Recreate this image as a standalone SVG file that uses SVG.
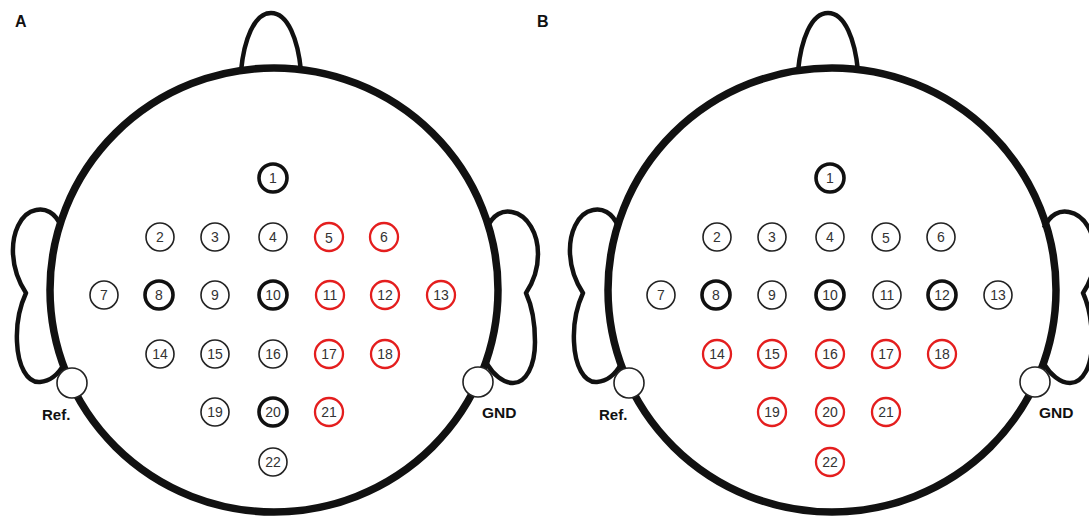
<svg xmlns="http://www.w3.org/2000/svg" width="1089" height="517" viewBox="0 0 1089 517">
<style>
.head{fill:none;stroke:#111;stroke-width:7.5}
.nose,.ear{fill:none;stroke:#111;stroke-width:4.5;stroke-linejoin:round}
.port{fill:#fff;stroke:#222;stroke-width:1.6}
.e{fill:#fff;stroke:#222;stroke-width:1.6}
.k{fill:#fff;stroke:#111;stroke-width:3.6}
.r{fill:#fff;stroke:#e41e1e;stroke-width:2.3}
.n{font-family:"Liberation Sans",Arial,sans-serif;font-size:14px;fill:#333;text-anchor:middle}
.lab{font-family:"Liberation Sans",Arial,sans-serif;font-weight:bold;fill:#111}
</style>
<rect width="1089" height="517" fill="#fff"/>
<text class="lab" x="15" y="27" font-size="16">A</text>
<text class="lab" x="537" y="27" font-size="16">B</text>

<g id="headA">
<path class="ear" d="M61,226 C55,212 45,208 36,210 C20,213 12,234 13,254 C14,272 20,284 26,293 C20,306 16,322 17,342 C18,366 27,383 40,382 C51,381 59,373 64,364"/>
<path class="ear" d="M487,228 C493,214 503,210 512,212 C528,215 538,234 538,254 C538,272 532,284 526,293 C532,306 535,322 535,342 C535,366 526,383 513,383 C503,383 493,374 487,364"/>
<path class="nose" d="M241,71 C244,40 254,13 271,13 C288,13 298,40 301,71"/>
<ellipse class="head" cx="274" cy="290" rx="224" ry="222"/>
<circle class="port" cx="72" cy="383" r="15"/>
<circle class="port" cx="478" cy="382" r="15"/>
<text class="lab" x="42" y="420" font-size="15">Ref.</text>
<text class="lab" x="482" y="418" font-size="15.5">GND</text>
</g>

<g id="headB" transform="translate(557,0)">
<path class="ear" d="M61,226 C55,212 45,208 36,210 C20,213 12,234 13,254 C14,272 20,284 26,293 C20,306 16,322 17,342 C18,366 27,383 40,382 C51,381 59,373 64,364"/>
<path class="ear" d="M487,228 C493,214 503,210 512,212 C528,215 538,234 538,254 C538,272 532,284 526,293 C532,306 535,322 535,342 C535,366 526,383 513,383 C503,383 493,374 487,364"/>
<path class="nose" d="M241,71 C244,40 254,13 271,13 C288,13 298,40 301,71"/>
<ellipse class="head" cx="275" cy="290" rx="224" ry="222"/>
<circle class="port" cx="72" cy="383" r="15"/>
<circle class="port" cx="478" cy="382" r="15"/>
<text class="lab" x="42" y="420" font-size="15">Ref.</text>
<text class="lab" x="482" y="418" font-size="15.5">GND</text>
</g>

<g id="A-electrodes">
<g id="a1"><circle class="k" cx="273" cy="178" r="14"/><text class="n" x="273" y="183">1</text></g>
<g id="a2"><circle class="e" cx="160" cy="237" r="14"/><text class="n" x="160" y="242">2</text></g>
<g id="a3"><circle class="e" cx="215" cy="237" r="14"/><text class="n" x="215" y="242">3</text></g>
<g id="a4"><circle class="e" cx="273" cy="237" r="14"/><text class="n" x="273" y="242">4</text></g>
<g id="a5"><circle class="r" cx="329" cy="237" r="14"/><text class="n" x="329" y="243">5</text></g>
<g id="a6"><circle class="r" cx="384" cy="237" r="14"/><text class="n" x="384" y="242">6</text></g>
<g id="a7"><circle class="e" cx="104" cy="295" r="14"/><text class="n" x="104" y="300">7</text></g>
<g id="a8"><circle class="k" cx="159" cy="295" r="14"/><text class="n" x="159" y="300">8</text></g>
<g id="a9"><circle class="e" cx="215" cy="295" r="14"/><text class="n" x="215" y="300">9</text></g>
<g id="a10"><circle class="k" cx="273" cy="295" r="14"/><text class="n" x="273" y="300">10</text></g>
<g id="a11"><circle class="r" cx="330" cy="295" r="14"/><text class="n" x="330" y="300">11</text></g>
<g id="a12"><circle class="r" cx="385" cy="295" r="14"/><text class="n" x="385" y="300">12</text></g>
<g id="a13"><circle class="r" cx="441" cy="295" r="14"/><text class="n" x="441" y="300">13</text></g>
<g id="a14"><circle class="e" cx="160" cy="354" r="14"/><text class="n" x="160" y="359">14</text></g>
<g id="a15"><circle class="e" cx="215" cy="354" r="14"/><text class="n" x="215" y="359">15</text></g>
<g id="a16"><circle class="e" cx="273" cy="354" r="14"/><text class="n" x="273" y="359">16</text></g>
<g id="a17"><circle class="r" cx="329" cy="354" r="14"/><text class="n" x="329" y="359">17</text></g>
<g id="a18"><circle class="r" cx="385" cy="354" r="14"/><text class="n" x="385" y="359">18</text></g>
<g id="a19"><circle class="e" cx="215" cy="412" r="14"/><text class="n" x="215" y="417">19</text></g>
<g id="a20"><circle class="k" cx="273" cy="412" r="14"/><text class="n" x="273" y="417">20</text></g>
<g id="a21"><circle class="r" cx="329" cy="412" r="14"/><text class="n" x="329" y="417">21</text></g>
<g id="a22"><circle class="e" cx="273" cy="462" r="14"/><text class="n" x="273" y="467">22</text></g>
</g>

<g id="B-electrodes">
<g id="b1"><circle class="k" cx="830" cy="178" r="14"/><text class="n" x="830" y="183">1</text></g>
<g id="b2"><circle class="e" cx="717" cy="237" r="14"/><text class="n" x="717" y="242">2</text></g>
<g id="b3"><circle class="e" cx="772" cy="237" r="14"/><text class="n" x="772" y="242">3</text></g>
<g id="b4"><circle class="e" cx="830" cy="237" r="14"/><text class="n" x="830" y="242">4</text></g>
<g id="b5"><circle class="e" cx="886" cy="237" r="14"/><text class="n" x="886" y="243">5</text></g>
<g id="b6"><circle class="e" cx="941" cy="237" r="14"/><text class="n" x="941" y="242">6</text></g>
<g id="b7"><circle class="e" cx="661" cy="295" r="14"/><text class="n" x="661" y="300">7</text></g>
<g id="b8"><circle class="k" cx="716" cy="295" r="14"/><text class="n" x="716" y="300">8</text></g>
<g id="b9"><circle class="e" cx="772" cy="295" r="14"/><text class="n" x="772" y="300">9</text></g>
<g id="b10"><circle class="k" cx="830" cy="295" r="14"/><text class="n" x="830" y="300">10</text></g>
<g id="b11"><circle class="e" cx="887" cy="295" r="14"/><text class="n" x="887" y="300">11</text></g>
<g id="b12"><circle class="k" cx="942" cy="295" r="14"/><text class="n" x="942" y="300">12</text></g>
<g id="b13"><circle class="e" cx="998" cy="295" r="14"/><text class="n" x="998" y="300">13</text></g>
<g id="b14"><circle class="r" cx="717" cy="354" r="14"/><text class="n" x="717" y="359">14</text></g>
<g id="b15"><circle class="r" cx="772" cy="354" r="14"/><text class="n" x="772" y="359">15</text></g>
<g id="b16"><circle class="r" cx="830" cy="354" r="14"/><text class="n" x="830" y="359">16</text></g>
<g id="b17"><circle class="r" cx="886" cy="354" r="14"/><text class="n" x="886" y="359">17</text></g>
<g id="b18"><circle class="r" cx="942" cy="354" r="14"/><text class="n" x="942" y="359">18</text></g>
<g id="b19"><circle class="r" cx="772" cy="412" r="14"/><text class="n" x="772" y="417">19</text></g>
<g id="b20"><circle class="r" cx="830" cy="412" r="14"/><text class="n" x="830" y="417">20</text></g>
<g id="b21"><circle class="r" cx="886" cy="412" r="14"/><text class="n" x="886" y="417">21</text></g>
<g id="b22"><circle class="r" cx="830" cy="462" r="14"/><text class="n" x="830" y="467">22</text></g>
</g>

<g id="connectors"/>
</svg>
